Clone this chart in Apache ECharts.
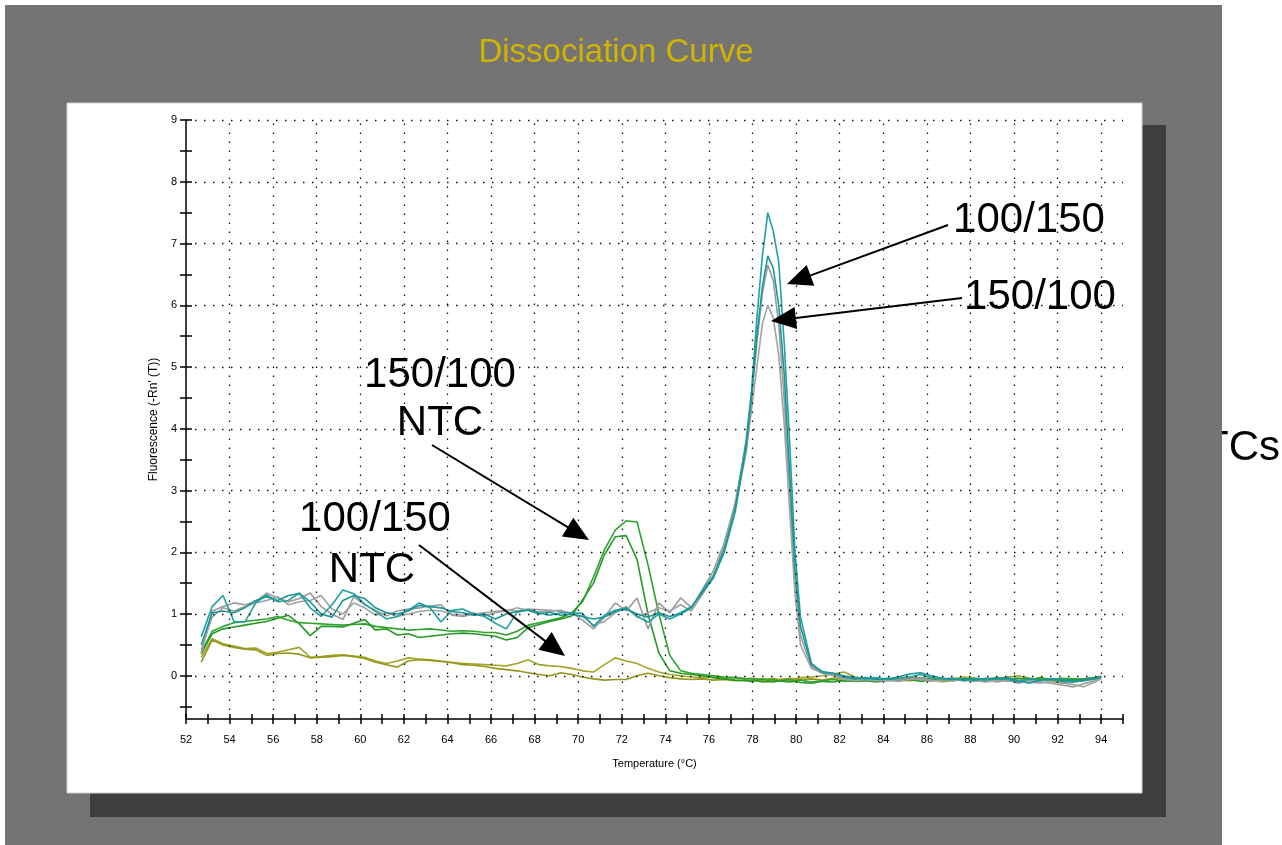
<!DOCTYPE html>
<html><head><meta charset="utf-8">
<script src="https://cdn.jsdelivr.net/npm/echarts@6/dist/echarts.min.js"></script>
<style>html,body{margin:0;padding:0;background:#fff}#c{width:1282px;height:845px}</style>
</head><body><div id="c"></div>
<script>
// Temperatures (°C) shared by every trace
const temps = [52.7,53.2,53.7,54.2,54.7,55.2,55.7,56.2,56.7,57.2,
57.7,58.2,58.7,59.2,59.7,60.2,60.7,61.2,61.7,62.2,
62.7,63.2,63.7,64.2,64.7,65.2,65.7,66.2,66.7,67.2,
67.7,68.2,68.7,69.2,69.7,70.2,70.7,71.2,71.7,72.2,
72.7,73.2,73.7,74.2,74.7,75.2,75.7,76.2,76.7,77.2,
77.7,
77.95,78.2,78.45,78.7,78.95,79.2,79.45,79.7,79.95,80.2,
80.7,81.2,81.7,82.2,82.7,83.2,83.7,84.2,84.7,85.2,
85.7,86.2,86.7,87.2,87.7,88.2,88.7,89.2,89.7,90.2,
90.7,91.2,91.7,92.2,92.7,93.2,93.7,94.0];

// 100/150 product (teal)
const teal1 = [0.63,1.12,1.30,0.88,0.87,1.18,1.31,1.20,1.22,1.34,
1.10,0.96,1.15,1.39,1.33,1.16,1.04,0.92,0.96,1.06,
1.18,1.10,0.87,1.06,1.08,1.00,0.96,0.85,0.76,1.03,
1.07,1.02,0.98,1.02,1.02,1.01,0.80,0.98,1.06,1.10,
0.96,0.87,1.00,0.92,1.00,1.10,1.38,1.62,2.05,2.70,
3.80,
4.6,5.8,6.8,7.5,7.2,6.7,5.4,3.8,2.0,0.95,
0.2,0.05,0.04,0.0,-0.03,-0.05,-0.03,-0.06,-0.04,-0.02,
0.02,-0.03,-0.05,-0.04,-0.08,-0.05,-0.07,-0.04,-0.06,-0.1,
-0.05,-0.08,-0.06,-0.09,-0.1,-0.08,-0.05,-0.02];
const teal2 = [0.50,1.02,1.05,1.02,1.10,1.22,1.28,1.22,1.30,1.33,
1.20,1.00,0.95,1.22,1.30,1.25,1.10,1.02,1.00,1.05,
1.14,1.12,1.10,1.04,1.02,0.98,1.00,0.92,1.00,1.04,
1.06,1.00,1.03,0.98,1.00,0.96,0.92,0.95,1.04,1.08,
1.00,0.95,1.02,0.96,1.02,1.12,1.35,1.58,2.00,2.65,
3.70,
4.5,5.5,6.3,6.8,6.6,6.0,4.9,3.3,1.7,0.8,
0.18,0.07,0.04,-0.02,-0.05,-0.03,-0.06,-0.05,-0.02,0.03,
0.05,0.0,-0.04,-0.06,-0.05,-0.07,-0.04,-0.05,-0.03,-0.08,
-0.12,-0.07,-0.05,-0.06,-0.08,-0.07,-0.04,-0.01];

// 150/100 product (grey)
const grey1 = [0.35,1.05,1.12,1.18,1.15,1.20,1.34,1.26,1.20,1.25,
1.34,1.12,1.00,0.91,1.28,1.15,1.06,0.97,1.05,1.08,
1.10,1.13,1.15,0.98,0.96,1.00,1.02,1.04,1.06,1.05,
1.08,1.07,1.06,1.04,1.02,0.90,0.76,0.95,1.18,1.05,
1.26,0.76,1.18,1.02,1.26,1.10,1.40,1.70,2.15,2.80,
3.75,
4.5,5.4,6.2,6.65,6.4,5.7,4.5,3.0,1.5,0.65,
0.15,0.05,0.02,-0.04,-0.07,-0.05,-0.04,-0.08,-0.06,-0.03,
-0.06,-0.09,-0.06,-0.04,-0.07,-0.09,-0.06,-0.1,-0.07,-0.12,
-0.08,-0.1,-0.12,-0.15,-0.18,-0.13,-0.08,-0.04];
const grey2 = [0.42,0.95,1.10,1.05,1.12,1.18,1.22,1.28,1.15,1.20,
1.22,1.30,1.08,1.00,1.18,1.10,0.98,1.02,0.96,1.00,
1.04,1.06,1.05,1.00,0.98,1.02,0.97,1.02,1.05,1.10,
1.06,1.03,1.05,1.06,1.00,0.96,0.82,0.88,1.02,1.12,
0.95,1.02,1.10,1.05,1.15,1.05,1.32,1.62,2.10,2.72,
3.60,
4.3,5.0,5.7,6.0,5.8,5.2,4.1,2.7,1.3,0.5,
0.12,0.04,0.0,-0.06,-0.08,-0.06,-0.08,-0.07,-0.09,-0.06,
-0.04,-0.07,-0.1,-0.08,-0.06,-0.08,-0.1,-0.07,-0.09,-0.06,
-0.1,-0.12,-0.09,-0.12,-0.14,-0.18,-0.1,-0.05];

// 150/100 NTC (green)
const green1 = [0.38,0.72,0.80,0.86,0.88,0.90,0.92,0.96,0.90,0.86,
0.85,0.84,0.83,0.82,0.83,0.84,0.80,0.78,0.76,0.74,
0.75,0.76,0.74,0.72,0.73,0.72,0.70,0.70,0.66,0.72,
0.82,0.86,0.90,0.94,1.02,1.20,1.60,2.04,2.36,2.51,
2.49,1.80,1.00,0.33,0.08,0.04,0.02,0.00,-0.02,-0.03,
-0.05,
-0.05,-0.06,-0.05,-0.07,-0.06,-0.08,-0.07,-0.06,-0.08,-0.07,
-0.1,-0.08,-0.06,-0.09,-0.07,-0.05,-0.06,-0.04,-0.06,-0.05,
-0.03,-0.06,-0.04,-0.07,-0.05,-0.04,-0.06,-0.03,-0.05,-0.04,
-0.07,-0.03,-0.06,-0.04,-0.05,-0.06,-0.04,-0.02];
const green2 = [0.36,0.68,0.76,0.79,0.82,0.85,0.88,0.93,0.98,0.84,
0.65,0.80,0.80,0.79,0.85,0.91,0.74,0.76,0.66,0.68,
0.62,0.64,0.66,0.68,0.69,0.68,0.66,0.64,0.58,0.62,
0.78,0.83,0.88,0.92,0.97,1.23,1.50,1.96,2.25,2.27,
1.88,1.00,0.37,0.08,0.04,0.02,0.00,-0.03,-0.05,-0.07,
-0.08,
-0.09,-0.08,-0.1,-0.09,-0.1,-0.08,-0.09,-0.1,-0.09,-0.11,
-0.12,-0.09,-0.1,-0.07,-0.09,-0.08,-0.1,-0.07,-0.08,-0.06,
-0.09,-0.07,-0.05,-0.08,-0.06,-0.07,-0.09,-0.06,-0.08,-0.05,
-0.04,-0.07,-0.05,-0.08,-0.06,-0.05,-0.03,-0.01];

// 100/150 NTC (olive)
const olive1 = [0.30,0.60,0.52,0.48,0.44,0.45,0.36,0.38,0.42,0.46,
0.30,0.31,0.33,0.34,0.32,0.30,0.24,0.20,0.24,0.29,
0.27,0.26,0.24,0.22,0.20,0.19,0.18,0.17,0.16,0.20,
0.26,0.18,0.16,0.15,0.12,0.08,0.06,0.18,0.29,0.24,
0.20,0.12,0.06,0.02,0.00,-0.02,-0.03,-0.02,-0.04,-0.03,
-0.05,
-0.04,-0.05,-0.06,-0.05,-0.04,-0.06,-0.05,-0.04,-0.05,-0.03,
-0.02,0.0,0.03,0.06,-0.02,-0.05,-0.04,-0.06,-0.05,-0.03,
-0.05,-0.04,-0.06,-0.05,-0.02,-0.04,-0.06,-0.05,-0.02,0.0,
-0.04,-0.06,-0.09,-0.11,-0.08,-0.06,-0.04,-0.02];
const olive2 = [0.22,0.58,0.50,0.46,0.43,0.42,0.33,0.36,0.37,0.35,
0.29,0.30,0.31,0.33,0.31,0.28,0.22,0.18,0.14,0.24,
0.26,0.25,0.23,0.21,0.18,0.17,0.15,0.12,0.10,0.08,
0.05,0.02,0.00,0.05,0.02,-0.02,-0.05,-0.07,-0.06,-0.06,
0.00,0.04,0.00,-0.03,-0.05,-0.06,-0.05,-0.07,-0.06,-0.08,
-0.07,
-0.08,-0.07,-0.08,-0.09,-0.08,-0.07,-0.09,-0.08,-0.07,-0.06,
-0.05,-0.07,-0.04,-0.06,-0.08,-0.07,-0.06,-0.05,-0.07,-0.08,
-0.06,-0.04,-0.07,-0.06,-0.08,-0.06,-0.05,-0.07,-0.06,-0.04,
-0.06,-0.05,-0.07,-0.09,-0.1,-0.08,-0.05,-0.03];

// Axis ticks / labels / grid positions
const yLabelVals = [0,1,2,3,4,5,6,7,8,9];
const yTickVals = [-0.5,0,0.5,1,1.5,2,2.5,3,3.5,4,4.5,5,5.5,6,6.5,7,7.5,8,8.5,9];
const xGridVals = [54,56,58,60,62,64,66,68,70,72,74,76,78,80,82,84,86,88,90,92,94];
const yGridVals = [0,1,2,3,4,5,6,7,8,9];

const FONT = '"Liberation Sans", Arial, sans-serif';
const pair = v => temps.map((t, i) => [t, v[i]]);

function arrow(x1, y1, x2, y2) {
  const dx = x2 - x1, dy = y2 - y1, L = Math.hypot(dx, dy);
  const ux = dx / L, uy = dy / L, hl = 25, hw = 11;
  const bx = x2 - ux * hl, by = y2 - uy * hl, px = -uy, py = ux;
  return [
    {type:'line', z:100, shape:{x1:x1, y1:y1, x2:bx + ux*2, y2:by + uy*2}, style:{stroke:'#000', lineWidth:2}},
    {type:'polygon', z:100, shape:{points:[[x2,y2],[bx+px*hw,by+py*hw],[bx-px*hw,by-py*hw]]}, style:{fill:'#000'}}
  ];
}
function txt(s, x, y, size, color, z, align) {
  return {type:'text', z:z, style:{text:s, x:x, y:y, font:size + 'px ' + FONT, fill:color, align:align || 'center', verticalAlign:'middle'}};
}

const lineSeries = (name, vals, color) => ({
  type:'line', name:name, data:pair(vals), showSymbol:false, symbol:'none',
  lineStyle:{color:color, width:1.6}, itemStyle:{color:color}, z:3, animation:false
});

const chart = echarts.init(document.getElementById('c'), null, {renderer:'canvas'});
chart.setOption({
  animation:false,
  backgroundColor:'#ffffff',
  grid:{left:186, right:159, top:120, bottom:126, outerBoundsMode:'none', containLabel:false},
  xAxis:[{
    type:'value', min:52, max:95, interval:1, position:'bottom',
    axisLine:{show:true, onZero:false, lineStyle:{color:'#000', width:1.5}},
    axisTick:{show:true, length:5, lineStyle:{color:'#000', width:1.5}},
    axisLabel:{show:true, margin:15, fontSize:11, color:'#000', fontFamily:FONT,
      formatter:v => (v % 2 === 0 && v <= 94) ? String(v) : ''},
    splitLine:{show:false},
    name:'Temperature (°C)', nameLocation:'middle', nameGap:39,
    nameTextStyle:{fontSize:11, color:'#000', fontFamily:FONT}
  },{
    type:'value', min:52, max:95, interval:1, position:'bottom', offset:0,
    axisLine:{show:false, onZero:false},
    axisTick:{show:true, inside:true, length:5, lineStyle:{color:'#000', width:1.5}},
    axisLabel:{show:false}, splitLine:{show:false}
  }],
  yAxis:[{
    type:'value', min:-0.7, max:9, position:'left',
    axisLine:{show:true, onZero:false, lineStyle:{color:'#000', width:1.5}},
    axisTick:{show:true, length:6, customValues:yTickVals, lineStyle:{color:'#000', width:1.5}},
    axisLabel:{show:true, customValues:yLabelVals, margin:9, fontSize:11, color:'#000', fontFamily:FONT},
    splitLine:{show:false},
    name:"Fluorescence (-Rn' (T))", nameLocation:'middle', nameGap:19,
    nameTextStyle:{fontSize:12, color:'#000', fontFamily:FONT}
  },{
    type:'value', min:-0.7, max:9, position:'left', offset:0,
    axisLine:{show:false, onZero:false},
    axisTick:{show:true, inside:true, length:6, customValues:yTickVals, lineStyle:{color:'#000', width:1.5}},
    axisLabel:{show:false}, splitLine:{show:false}
  }],
  series:[
    {type:'line', name:'grid', data:[], z:1, silent:true, animation:false,
      markLine:{silent:true, symbol:['none','none'], animation:false, label:{show:false},
        lineStyle:{color:'#111', width:1.3, type:[1.5,7.5]},
        emphasis:{disabled:true},
        data: xGridVals.map(v => ({xAxis:v})).concat(yGridVals.map(v => ({yAxis:v})))}},
    lineSeries('100/150 NTC a', olive1, '#a3a32a'),
    lineSeries('100/150 NTC b', olive2, '#96961a'),
    lineSeries('150/100 NTC a', green1, '#2ea32e'),
    lineSeries('150/100 NTC b', green2, '#249a24'),
    lineSeries('150/100 a', grey1, '#9a9a9a'),
    lineSeries('150/100 b', grey2, '#a2a2a2'),
    lineSeries('100/150 a', teal1, '#21a0a0'),
    lineSeries('100/150 b', teal2, '#1b9696')
  ],
  graphic:{elements:[
    txt('NTCs', 1280, 448, 42, '#000', -40, 'right'),
    {type:'rect', z:-30, shape:{x:5, y:5, width:1217, height:845}, style:{fill:'#747474'}},
    {type:'rect', z:-25, shape:{x:90, y:125, width:1076, height:692}, style:{fill:'#3e3e3e'}},
    {type:'rect', z:-20, shape:{x:67, y:103, width:1075, height:690}, style:{fill:'#ffffff', stroke:'#cfcfcf', lineWidth:1}},
    txt('Dissociation Curve', 616, 53, 33, '#d2b400', 10),
    txt('100/150', 1029, 220, 42, '#000', 100),
    txt('150/100', 1040, 297, 42, '#000', 100),
    txt('150/100', 440, 375, 42, '#000', 100),
    txt('NTC', 440, 423, 42, '#000', 100),
    txt('100/150', 375, 519, 42, '#000', 100),
    txt('NTC', 372, 570, 42, '#000', 100)
  ].concat(arrow(948, 225, 787, 284), arrow(962, 298, 771, 321), arrow(432, 445, 589, 540), arrow(419, 545, 565, 656))}
});
</script>
</body></html>
